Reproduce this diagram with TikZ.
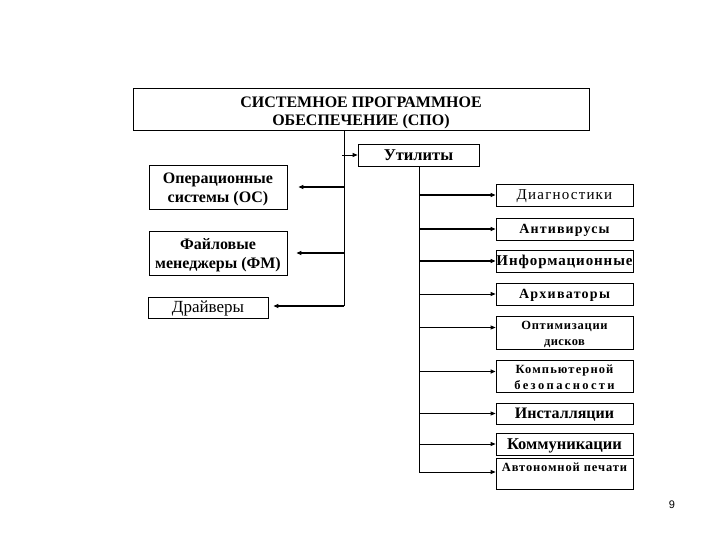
\documentclass[tikz,border=0pt]{standalone}
\usepackage{fontspec}
\setmainfont{Liberation Serif}
\newfontfamily\pnfont{Liberation Sans}
\usetikzlibrary{arrows.meta}
\newcommand{\lsp}[1]{\addfontfeatures{LetterSpace=#1}}
\newcommand{\dn}[2]{\raisebox{-#1}[\height][\depth]{\begin{tabular}{@{}c@{}}#2\end{tabular}}}
\tikzset{
  box/.style={draw, line width=0.8pt, inner sep=0pt, font=\bfseries},
  trunk/.style={line width=1pt},
  arr/.style={line width=1.2pt, -{Triangle[length=5pt,width=4pt]}},
}
\begin{document}
\begin{tikzpicture}[x=1pt,y=-1pt]
\useasboundingbox (0,0) rectangle (720,540);
% top
\node[box, minimum width=456pt, minimum height=42pt, font=\fontsize{16}{18}\selectfont\bfseries] (top) at (361,109) {\dn{4pt}{СИСТЕМНОЕ ПРОГРАММНОЕ\\ОБЕСПЕЧЕНИЕ (СПО)}};
\node[box, minimum width=121pt, minimum height=22pt, font=\fontsize{16.5}{18}\selectfont\bfseries] (utl) at (418.5,155) {\dn{1.5pt}{Утилиты}};
% left
\node[box, minimum width=138pt, minimum height=44pt, font=\fontsize{16}{19}\selectfont\bfseries] (os) at (218,187) {\dn{2pt}{Операционные\\системы (ОС)}};
\node[box, minimum width=138pt, minimum height=44pt, font=\fontsize{16}{19}\selectfont\bfseries] (fm) at (218,253) {\dn{2pt}{Файловые\\менеджеры (ФМ)}};
\node[box, minimum width=120pt, minimum height=21pt, font=\fontsize{17}{19}\selectfont] (dr) at (208,307.5) {\dn{1.5pt}{Драйверы}};
% right
\node[box, minimum width=137pt, minimum height=22pt, font=\fontsize{15}{17}\selectfont\lsp{8}] (diag) at (564.5,195) {\dn{1.5pt}{Диагностики}};
\node[box, minimum width=137pt, minimum height=22pt, font=\fontsize{14}{16}\selectfont\bfseries\lsp{8}] (anti) at (564.5,229) {\dn{1.5pt}{Антивирусы}};
\node[box, minimum width=137pt, minimum height=22pt, font=\fontsize{15}{17}\selectfont\bfseries\lsp{6}] (info) at (564.5,261) {\dn{1.5pt}{Информационные}};
\node[box, minimum width=137pt, minimum height=22pt, font=\fontsize{14}{16}\selectfont\bfseries\lsp{9}] (arch) at (564.5,294) {\dn{1.5pt}{Архиваторы}};
\node[box, minimum width=137pt, minimum height=33pt, font=\fontsize{12.5}{16}\selectfont\bfseries] (opt) at (564.5,332.5) {\dn{1.5pt}{{\lsp{6}Оптимизации}\\{\lsp{3}дисков}}};
\node[box, minimum width=137pt, minimum height=31pt, font=\fontsize{12.5}{16}\selectfont\bfseries] (comp) at (564.5,376.5) {\dn{2pt}{{\lsp{9}Компьютерной}\\{\lsp{19}безопасности}}};
\node[box, minimum width=137pt, minimum height=21pt, font=\fontsize{16}{18}\selectfont\bfseries] (inst) at (564.5,413.5) {\dn{1.5pt}{Инсталляции}};
\node[box, minimum width=137pt, minimum height=22pt, font=\fontsize{16.5}{18}\selectfont\bfseries] (comm) at (564.5,444) {\dn{1.5pt}{Коммуникации}};
\node[box, minimum width=137pt, minimum height=31pt, font=\fontsize{12.5}{14}\selectfont\bfseries\lsp{7}, anchor=north, text depth=14pt, text height=9pt] (auto) at (564.5,458) {Автономной печати};
% page number
\node[font=\pnfont\fontsize{11}{13}\selectfont] (pn) at (672,505) {9};
% trunks
\coordinate (lb) at (344,306);
\coordinate (rb) at (419,472);
\draw[trunk] (top.south -| lb) -- (lb);
\draw[trunk] (utl.south -| rb) -- (rb);
% left arrows
\draw[arr, line width=0.8pt] ([xshift=-2pt]utl.west -| lb) -- (utl.west);
\draw[arr] (os.east -| lb) -- ([xshift=11pt]os.east);
\draw[arr] (fm.east -| lb) -- ([xshift=9pt]fm.east);
\draw[arr] (lb) -- ([xshift=5pt]dr.east |- lb);
% right arrows
\draw[arr] (diag.west -| rb) -- (diag.west);
\draw[arr] (anti.west -| rb) -- (anti.west);
\draw[arr] (info.west -| rb) -- (info.west);
\draw[arr, line width=0.8pt] (arch.west -| rb) -- (arch.west);
\draw[arr, line width=0.8pt] ([yshift=5pt]opt.west -| rb) -- ([yshift=5pt]opt.west);
\draw[arr] ([yshift=5pt]comp.west -| rb) -- ([yshift=5pt]comp.west);
\draw[arr, line width=0.8pt] (inst.west -| rb) -- (inst.west);
\draw[arr, line width=0.8pt] (comm.west -| rb) -- (comm.west);
\draw[arr, line width=0.8pt] (rb) -- (auto.west |- rb);
\end{tikzpicture}
\end{document}
